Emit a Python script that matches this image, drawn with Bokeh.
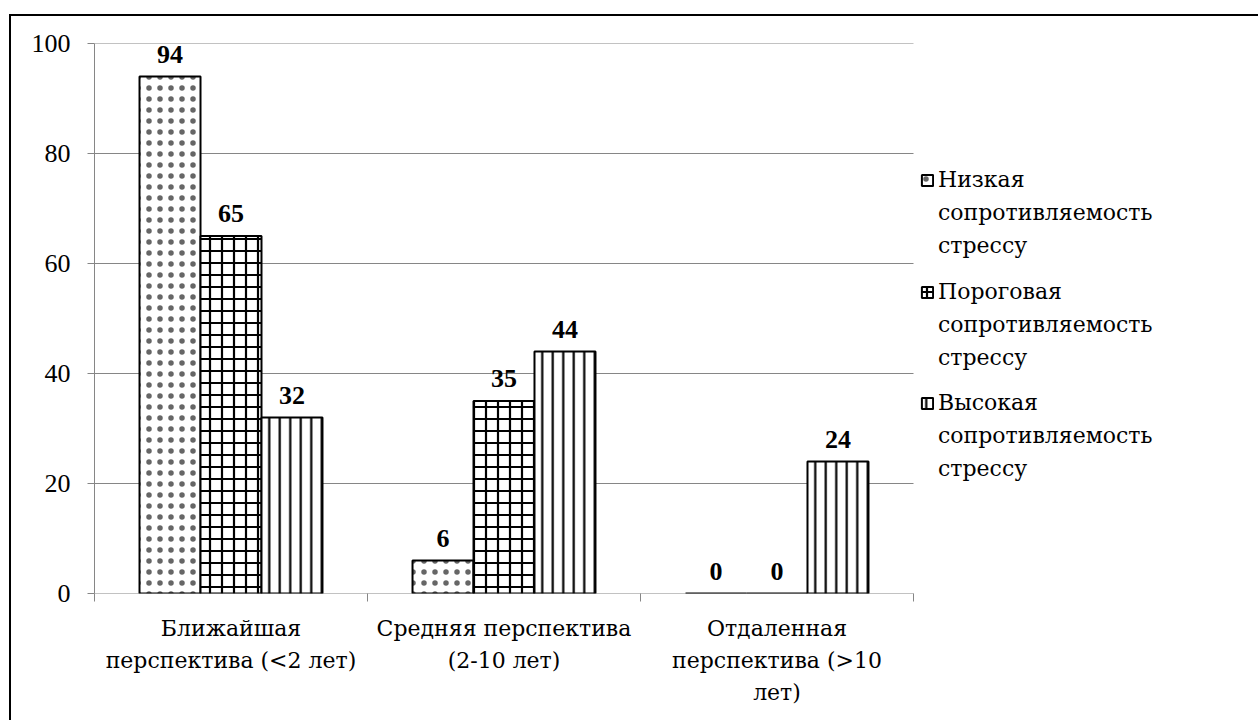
from bokeh.plotting import figure
from bokeh.models import Range1d, FixedTicker, ColumnDataSource, Legend, LegendItem, LinearAxis
from bokeh.core.properties import value
from bokeh.embed import file_html
from bokeh.resources import INLINE

categories = ["Ближайшая перспектива (<2 лет)", "Средняя перспектива (2-10 лет)", "Отдаленная перспектива (>10 лет)"]
category_lines = [
    ["Ближайшая", "Средняя перспектива", "Отдаленная"],
    ["перспектива (<2 лет)", "(2-10 лет)", "перспектива (>10"],
    ["", "", "лет)"],
]
series_lines = [
    ["Низкая", "сопротивляемость", "стрессу"],
    ["Пороговая", "сопротивляемость", "стрессу"],
    ["Высокая", "сопротивляемость", "стрессу"],
]
low_values = [94, 6, 0]
threshold_values = [65, 35, 0]
high_values = [32, 44, 24]
y_ticks = [0, 20, 40, 60, 80, 100]

FONT = "Liberation Serif"
CYR_FONT = "DejaVu Serif"
CYR_SIZE = "22px"
GRAY = "#868686"

N = len(categories)
x_end = N * 1156 / 819  # extra room on the right of the frame for the legend

p = figure(width=1249, height=706, output_backend="svg", toolbar_location=None,
           x_range=Range1d(0, x_end), y_range=Range1d(0, 100),
           min_border_left=83, min_border_top=27, min_border_bottom=129, min_border_right=10)
p.styles = {"margin-left": "9px", "margin-top": "14px", "border-left": "2px solid black", "border-top": "2px solid black"}
p.outline_line_color = None
p.background_fill_color = "white"
p.border_fill_color = "white"

# horizontal gridlines only across the category area
p.segment(x0=[0] * len(y_ticks), x1=[N] * len(y_ticks), y0=y_ticks, y1=y_ticks,
          line_color=GRAY, line_width=1)

bar_w = 0.2234
offsets = [-bar_w, 0.0, bar_w]
hatches = [("dot", 11, 0.2, "#666666"), ("cross", 12, 2.2, "black"), ("vertical_line", 10.5, 2.2, "black")]
all_vals = [low_values, threshold_values, high_values]

bar_renderers = []
for k, vals in enumerate(all_vals):
    xs = [i + 0.5 + offsets[k] for i in range(N)]
    src = ColumnDataSource(dict(x=xs, top=vals, lbl=[str(v) for v in vals]))
    pat, sc, wt, hc = hatches[k]
    r = p.vbar(x="x", top="top", width=bar_w, source=src, fill_color="white",
               line_color="black", line_width=2, hatch_pattern=pat, hatch_scale=sc,
               hatch_weight=wt, hatch_color=hc)
    p.text(x="x", y="top", text="lbl", source=src, text_align="center", text_baseline="bottom",
           y_offset=-14, text_font=value(FONT), text_font_size="26px", text_font_style="bold",
           text_color="black")
    bar_renderers.append(r)

# invisible renderer for legend continuation lines
blank = p.vbar(x=[], top=[], width=0.1, fill_alpha=0, line_alpha=0)

centers = [i + 0.5 for i in range(N)]

# main x axis (first line of labels + boundary ticks)
p.xaxis.ticker = FixedTicker(ticks=centers, minor_ticks=list(range(N + 1)))
p.xaxis.major_label_overrides = {c: category_lines[0][i] for i, c in enumerate(centers)}
p.xaxis.major_tick_out = 0
p.xaxis.major_tick_in = 0
p.xaxis.minor_tick_out = 8
p.xaxis.minor_tick_in = 0
p.xaxis.minor_tick_line_color = GRAY
p.xaxis.axis_line_color = None
p.xaxis.major_label_text_font = CYR_FONT
p.xaxis.major_label_text_font_size = CYR_SIZE
p.xaxis.major_label_text_color = "black"
p.xaxis.major_label_standoff = 14

for row in category_lines[1:]:
    ax = LinearAxis(ticker=FixedTicker(ticks=centers, minor_ticks=[]),
                    major_label_overrides={c: row[i] for i, c in enumerate(centers)},
                    axis_line_color=None, major_tick_line_color=None, minor_tick_line_color=None,
                    major_tick_out=0, major_tick_in=0, minor_tick_out=0, minor_tick_in=0,
                    major_label_text_font=CYR_FONT, major_label_text_font_size=CYR_SIZE,
                    major_label_text_color="black", major_label_standoff=4)
    p.add_layout(ax, "below")

p.yaxis.ticker = FixedTicker(ticks=y_ticks, minor_ticks=[])
p.yaxis.major_tick_out = 7
p.yaxis.major_tick_in = 0
p.yaxis.major_tick_line_color = GRAY
p.yaxis.axis_line_color = GRAY
p.yaxis.major_label_text_font = FONT
p.yaxis.major_label_text_font_size = "26px"
p.yaxis.major_label_text_color = "black"
p.yaxis.major_label_standoff = 17

p.xgrid.visible = False
p.ygrid.visible = False

# one legend block per series so the gap between blocks can differ from the line pitch
legend_bottoms = [331, 219, 108]
for k, lines in enumerate(series_lines):
    its = [LegendItem(label=lines[0], renderers=[bar_renderers[k]])]
    for ln in lines[1:]:
        its.append(LegendItem(label=ln, renderers=[blank]))
    lg = Legend(items=its, location=(826, legend_bottoms[k]), border_line_color=None,
                background_fill_alpha=0, margin=0, padding=10, spacing=0,
                label_text_font=CYR_FONT, label_text_font_size=CYR_SIZE, label_text_color="black",
                glyph_width=14, glyph_height=14, label_standoff=4, label_height=33)
    p.add_layout(lg, "center")

open("out.html", "w").write(file_html(p, INLINE))
